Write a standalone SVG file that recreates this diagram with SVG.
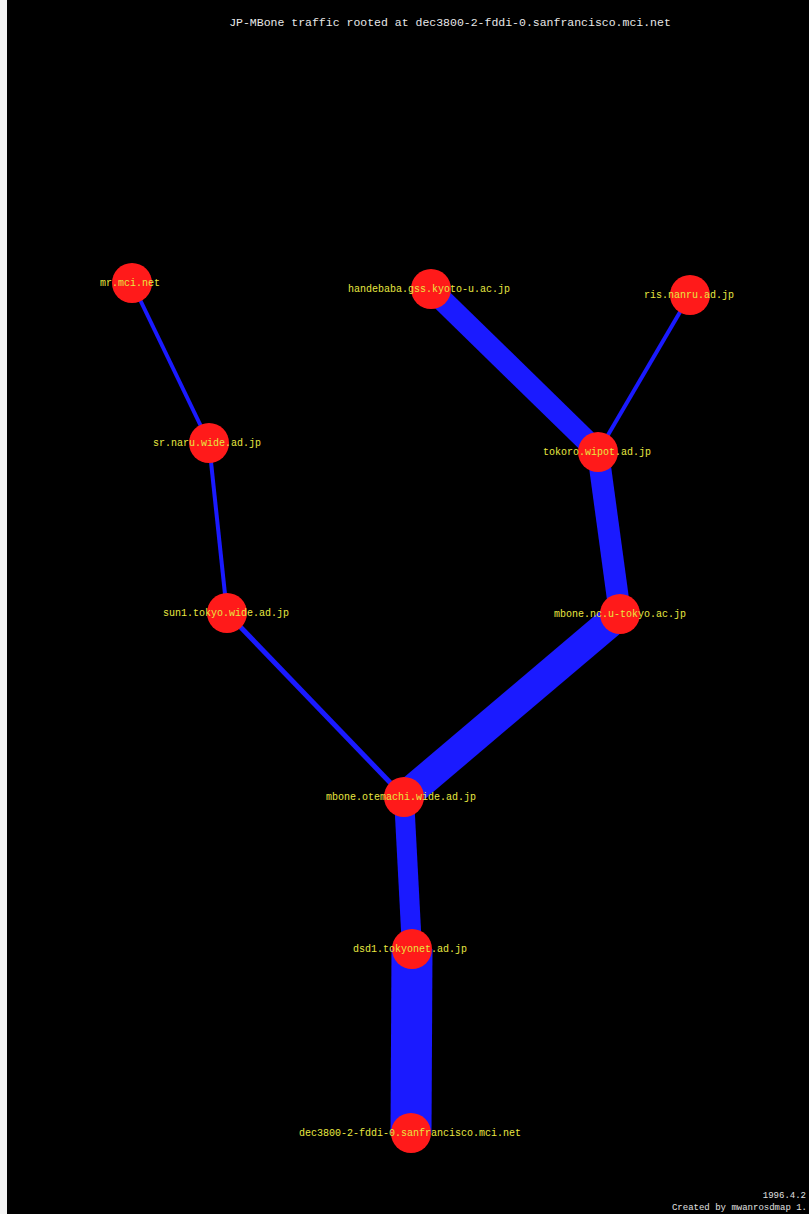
<svg xmlns="http://www.w3.org/2000/svg" width="809" height="1214" viewBox="0 0 809 1214">
<style>
.e{stroke:#1a1aff;stroke-linecap:butt;fill:none}
.n{fill:#ff1a1a}
.l{font-family:"Liberation Mono",monospace;font-size:10px;fill:#e8e840;text-anchor:middle}
.t{font-family:"Liberation Mono",monospace;font-size:11.5px;fill:#e8e8e8;text-anchor:middle}
.f{font-family:"Liberation Mono",monospace;font-size:9px;fill:#e0e0e0;text-anchor:end}
</style>
<rect width="809" height="1214" fill="#f4f4f4"/>
<rect x="7" y="0" width="802" height="1214" fill="#000"/>
<text class="t" x="450" y="26">JP-MBone traffic rooted at dec3800-2-fddi-0.sanfrancisco.mci.net</text>
<g id="connectors">
<line class="e" x1="132" y1="283" x2="209" y2="443" stroke-width="4"/>
<line class="e" x1="209" y1="443" x2="227" y2="613" stroke-width="4"/>
<line class="e" x1="227" y1="613" x2="404" y2="797" stroke-width="5"/>
<line class="e" x1="431" y1="289" x2="598" y2="452" stroke-width="22"/>
<line class="e" x1="690" y1="295" x2="598" y2="452" stroke-width="4"/>
<line class="e" x1="598" y1="452" x2="620" y2="614" stroke-width="22"/>
<line class="e" x1="620" y1="614" x2="404" y2="797" stroke-width="30"/>
<line class="e" x1="404" y1="797" x2="412" y2="949" stroke-width="20"/>
<line class="e" x1="412" y1="949" x2="411" y2="1133" stroke-width="41"/>
</g>
<g id="n-mr"><circle class="n" cx="132" cy="283" r="20"/><text class="l" x="130" y="286">mr.mci.net</text></g>
<g id="n-handebaba"><circle class="n" cx="431" cy="289" r="20"/><text class="l" x="429" y="292">handebaba.gss.kyoto-u.ac.jp</text></g>
<g id="n-ris"><circle class="n" cx="690" cy="295" r="20"/><text class="l" x="689" y="298">ris.nanru.ad.jp</text></g>
<g id="n-sr"><circle class="n" cx="209" cy="443" r="20"/><text class="l" x="207" y="446">sr.naru.wide.ad.jp</text></g>
<g id="n-tokoro"><circle class="n" cx="598" cy="452" r="20"/><text class="l" x="597" y="455">tokoro.wipot.ad.jp</text></g>
<g id="n-sun1"><circle class="n" cx="227" cy="613" r="20"/><text class="l" x="226" y="616">sun1.tokyo.wide.ad.jp</text></g>
<g id="n-mbonenc"><circle class="n" cx="620" cy="614" r="20"/><text class="l" x="620" y="617">mbone.nc.u-tokyo.ac.jp</text></g>
<g id="n-otemachi"><circle class="n" cx="404" cy="797" r="20"/><text class="l" x="401" y="800">mbone.otemachi.wide.ad.jp</text></g>
<g id="n-dsd1"><circle class="n" cx="412" cy="949" r="20"/><text class="l" x="410" y="952">dsd1.tokyonet.ad.jp</text></g>
<g id="n-dec3800"><circle class="n" cx="411" cy="1133" r="20"/><text class="l" x="410" y="1136">dec3800-2-fddi-0.sanfrancisco.mci.net</text></g>
<text class="f" x="806" y="1198">1996.4.2</text>
<text class="f" x="807" y="1210">Created by mwanrosdmap 1.</text>
</svg>
